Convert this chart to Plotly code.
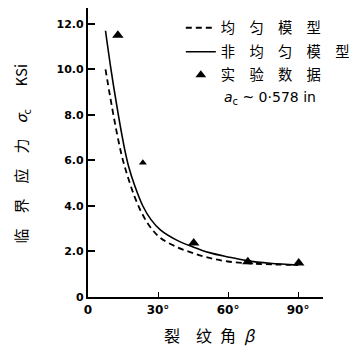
import plotly.graph_objects as go

# ---- data ----
solid_deg = [7.5, 10, 13, 15.5, 17.5, 20, 23.5, 27, 31, 38, 45, 52, 60, 68, 78, 90]
solid_val = [11.7, 9.9, 8.0, 6.6, 5.7, 4.9, 4.0, 3.4, 2.95, 2.5, 2.2, 1.95, 1.76, 1.6, 1.48, 1.4]

dash_deg = [7.5, 9.5, 12, 14.5, 17, 20, 23, 26.5, 31, 38, 45, 52, 60, 70, 80, 90]
dash_val = [10.0, 8.8, 7.4, 6.2, 5.3, 4.4, 3.7, 3.1, 2.6, 2.2, 1.93, 1.72, 1.56, 1.47, 1.43, 1.4]

exp_deg = [12.8, 23.5, 45.3, 68.5, 90.3]
exp_val = [11.5, 5.9, 2.37, 1.55, 1.49]

y_ticks = [0, 2, 4, 6, 8, 10, 12]
y_labels = ["0", "2.0", "4.0", "6.0", "8.0", "10.0", "12.0"]
x_ticks = [0, 30, 60, 90]
x_labels = ["0", "30°", "60°", "90°"]

name_uniform = "均\u2003匀\u2003模\u2003型"
name_nonuni = "非\u2003均\u2003匀\u2003模\u2003型"
name_exp = "实\u2003验\u2003数\u2003据"
note_text = "<i>a</i><sub>c</sub> ~ 0·578 in"
x_title = "裂\u2003纹\u2002角\u2002<i>β</i>"
y_title = "临\u2003界\u2003应\u2003力\u2003<i>σ</i><sub>c</sub>\u2003\u2002KSi"

CJK = "Noto Sans CJK SC"
marker_sizes = [10, 7, 10, 10, 10]

fig = go.Figure()
fig.add_trace(go.Scatter(x=dash_deg, y=dash_val, mode="lines", name=name_uniform,
                         legend="legend",
                         line=dict(color="black", width=1.8, dash="6px,4px", shape="spline")))
fig.add_trace(go.Scatter(x=solid_deg, y=solid_val, mode="lines", name=name_nonuni,
                         legend="legend2",
                         line=dict(color="black", width=1.6, shape="spline")))
fig.add_trace(go.Scatter(x=exp_deg, y=exp_val, mode="markers", name=name_exp,
                         legend="legend3",
                         marker=dict(symbol="triangle-up", size=marker_sizes, color="black",
                                     opacity=1, line=dict(width=0))))

leg_common = dict(x=0.395, xanchor="left", yanchor="middle",
                  bgcolor="rgba(0,0,0,0)", font=dict(family=CJK, size=14.3),
                  itemwidth=30)

fig.update_layout(
    width=349, height=346,
    margin=dict(l=80, r=34, t=0, b=57, autoexpand=False),
    paper_bgcolor="white", plot_bgcolor="white",
    font=dict(family=CJK, color="black", size=13),
    showlegend=True,
    legend=dict(y=0.931, **leg_common),
    legend2=dict(y=0.848, **leg_common),
    legend3=dict(y=0.768, **leg_common),
    xaxis=dict(range=[0, 100.7], showgrid=False, zeroline=False, automargin=False,
               showline=True, linecolor="black", linewidth=2.2,
               ticks="inside", ticklen=5, tickwidth=1.2, tickcolor="black",
               tickvals=x_ticks, ticktext=x_labels,
               tickfont=dict(family="DejaVu Sans", size=12, color="black", weight="bold")),
    yaxis=dict(range=[0, 12.7], showgrid=False, zeroline=False, automargin=False,
               showline=True, linecolor="black", linewidth=2.2,
               ticks="inside", ticklen=7, tickwidth=2, tickcolor="black",
               tickvals=y_ticks, ticktext=y_labels,
               tickfont=dict(family="DejaVu Sans", size=11, color="black", weight="bold")),
    annotations=[
        dict(text=note_text, xref="paper", yref="paper", x=0.57, y=0.689,
             xanchor="left", yanchor="middle", showarrow=False,
             font=dict(family="DejaVu Sans", size=14)),
        dict(text=x_title, xref="paper", yref="paper", x=0.519, y=-0.1315,
             xanchor="center", yanchor="middle", showarrow=False,
             font=dict(family=CJK, size=16)),
        dict(text=y_title, xref="paper", yref="paper", x=-0.283, y=0.498,
             xanchor="center", yanchor="middle", showarrow=False, textangle=-90,
             font=dict(family=CJK, size=15)),
    ],
)

fig.write_html("out.html")
